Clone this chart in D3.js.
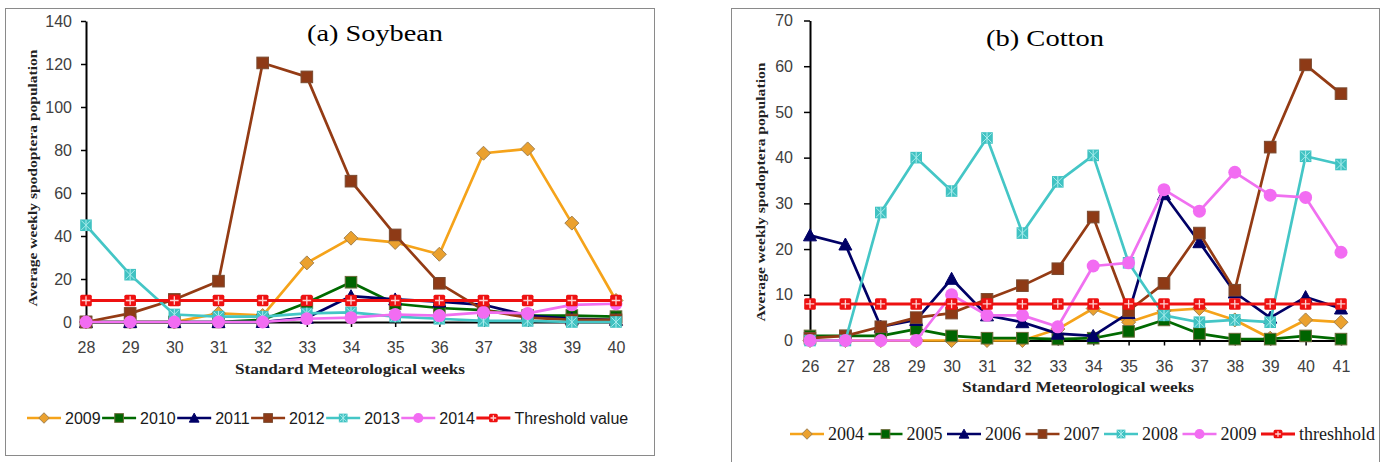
<!DOCTYPE html>
<html><head><meta charset="utf-8">
<script src="https://cdn.jsdelivr.net/npm/d3@7"></script>
<style>
html,body{margin:0;padding:0;background:#fff;}
svg{display:block;}
</style></head><body>
<svg id="c" width="1382" height="462"></svg>
<script>
// ---------- DATA ----------
const soyWeeks = [28,29,30,31,32,33,34,35,36,37,38,39,40];
const soyYTicks = [0,20,40,60,80,100,120,140];
const soy2009 = [0,0,0,4,3,27.5,39,37,31.5,78.5,80.5,46,10];
const soy2010 = [0,0,0,0,1,9,18.5,8.5,6.5,5.5,3,3,2.5];
const soy2011 = [0,0,0,0,0,2,12,10.5,9.5,8,3,1.5,1];
const soy2012 = [0,4,10.5,19,120.5,114,65.5,40.5,18,5.5,2,1,1];
const soy2013 = [45,22,3.5,2.5,2.5,4,4.5,2.5,1.5,0.5,0.5,0,0];
const soy2014 = [0,0,0,0,0,1.5,2,3.5,3,4.5,4,8,8.5];
const soyThreshold = [10,10,10,10,10,10,10,10,10,10,10,10,10];
const soyNames = ["2009","2010","2011","2012","2013","2014","Threshold value"];

const cotWeeks = [26,27,28,29,30,31,32,33,34,35,36,37,38,39,40,41];
const cotYTicks = [0,10,20,30,40,50,60,70];
const cot2004 = [0,0,0,0,0,0,0,2.5,7,4,6.5,7,4.5,0.5,4.5,4];
const cot2005 = [1,1,1,2.5,1,0.5,0.5,0.3,0.5,2,4.5,1.5,0.3,0.3,1,0.3];
const cot2006 = [23,21,3,4.5,13.5,5.5,4,1.5,1,6,32,21.5,10.5,5,9.5,7];
const cot2007 = [0.5,1,3,5,6,9,12,15.7,27,6.5,12.5,23.5,11,42.3,60.3,54];
const cot2008 = [0,0,28,40,32.7,44.3,23.5,34.7,40.5,17,5.5,4,4.5,4,40.3,38.5];
const cot2009 = [0,0,0,0,10,5.5,5.5,3,16.3,17,33,28.3,36.8,31.8,31.3,19.3];
const cotThreshold = [8,8,8,8,8,8,8,8,8,8,8,8,8,8,8,8];
const cotNames = ["2004","2005","2006","2007","2008","2009","threshhold"];

// ---------- STYLES ----------
const styles = [
  {line:"#F5A31A", fill:"#EBA12E", stroke:"#A08050", m:"diamond"},
  {line:"#006A00", fill:"#006400", stroke:"#6B6B3A", m:"square"},
  {line:"#000066", fill:"#000066", stroke:"#000066", m:"triangle"},
  {line:"#943B14", fill:"#8E3A16", stroke:"#7A4A30", m:"square"},
  {line:"#44C6C6", fill:"#40C2C2", stroke:"#40C2C2", m:"star"},
  {line:"#F070F0", fill:"#F26CF2", stroke:"#F26CF2", m:"circle"},
  {line:"#EE1111", fill:"#EE1111", stroke:"#EE1111", m:"plus", w:3}
];

const svg = d3.select("#c");

function addMarker(g, st, s) {
  const r = 5.8 * s;
  if (st.m === "diamond") {
    const d = 7 * s;
    g.append("path").attr("d", `M0,${-d}L${d},0L0,${d}L${-d},0Z`)
      .attr("fill", st.fill).attr("stroke", st.stroke).attr("stroke-width", 1);
  } else if (st.m === "square") {
    g.append("rect").attr("x", -r).attr("y", -r).attr("width", 2*r).attr("height", 2*r)
      .attr("fill", st.fill).attr("stroke", st.stroke).attr("stroke-width", 1);
  } else if (st.m === "triangle") {
    g.append("path").attr("d", `M0,${-6.5*s}L${6.5*s},${5.5*s}L${-6.5*s},${5.5*s}Z`)
      .attr("fill", st.fill).attr("stroke", st.stroke).attr("stroke-width", 1);
  } else if (st.m === "circle") {
    g.append("circle").attr("r", r+0.7).attr("fill", st.fill);
  } else if (st.m === "star") {
    g.append("rect").attr("x", -r).attr("y", -r).attr("width", 2*r).attr("height", 2*r)
      .attr("fill", st.fill);
    const k = r*0.8;
    g.append("path").attr("d", `M${-k},${-k}L${k},${k}M${-k},${k}L${k},${-k}M0,${-r}L0,${r}`)
      .attr("stroke", "#A8ECEC").attr("stroke-width", 1);
  } else if (st.m === "plus") {
    g.append("rect").attr("x", -r).attr("y", -r).attr("width", 2*r).attr("height", 2*r)
      .attr("rx", 1.5).attr("fill", st.fill);
    g.append("path").attr("d", `M0,${-r+1.5}L0,${r-1.5}M${-r+1.5},0L${r-1.5},0`)
      .attr("stroke", "#FFD0D0").attr("stroke-width", 1.3);
  }
}

function drawChart(opt) {
  const g = svg.append("g");
  g.append("rect").attr("x", opt.box[0]+0.5).attr("y", opt.box[1]+0.5)
    .attr("width", opt.box[2]-opt.box[0]).attr("height", opt.box[3]-opt.box[1])
    .attr("fill", "#fff").attr("stroke", "#8a8a8a").attr("stroke-width", 1);

  const x = d3.scalePoint().domain(opt.weeks).range(opt.xr);
  const y = d3.scaleLinear().domain([0, opt.yTicks[opt.yTicks.length-1]]).range(opt.yr);

  const ya = g.append("g").attr("transform", `translate(${opt.xr[0]},0)`)
    .call(d3.axisLeft(y).tickValues(opt.yTicks).tickSize(opt.ytick).tickSizeOuter(0).tickPadding(opt.ypad));
  const xa = g.append("g").attr("transform", `translate(0,${opt.yr[0]})`)
    .call(d3.axisBottom(x).tickSize(5).tickSizeOuter(0).tickPadding(15));
  [ya, xa].forEach(a => {
    a.select(".domain").attr("stroke", "#000").attr("stroke-width", 2);
    a.selectAll(".tick line").attr("stroke", "#000").attr("stroke-width", 1.5);
    a.selectAll(".tick text").attr("fill", "#404040")
      .style("font-family", "'Liberation Sans', Arial, sans-serif").style("font-size", "16px");
  });

  const line = d3.line().x(d => x(d.w)).y(d => y(d.v));
  opt.series.forEach((vals, i) => {
    const st = styles[i];
    const pts = opt.weeks.map((w, j) => ({w, v: vals[j]}));
    g.append("path").datum(pts).attr("d", line).attr("fill", "none")
      .attr("stroke", st.line).attr("stroke-width", st.w || 2.7).attr("stroke-linejoin", "round");
    pts.forEach(p => {
      const mg = g.append("g").attr("transform", `translate(${x(p.w)},${y(p.v)})`);
      addMarker(mg, st, 1);
    });
  });

  g.append("text").attr("x", opt.title.x).attr("y", opt.title.y)
    .attr("textLength", opt.title.len).attr("lengthAdjust", "spacingAndGlyphs")
    .style("font-family", "'Liberation Serif', 'Times New Roman', serif").style("font-size", "24px")
    .attr("fill", "#000").text(opt.title.text);

  g.append("text").attr("transform", `translate(${opt.ylab.x},${opt.ylab.y}) rotate(-90)`)
    .attr("text-anchor", "middle").attr("textLength", opt.ylab.len).attr("lengthAdjust", "spacingAndGlyphs")
    .style("font-family", "'Liberation Serif', 'Times New Roman', serif").style("font-size", "13px")
    .style("font-weight", "bold").attr("fill", "#222").text("Average weekly spodoptera  population");

  g.append("text").attr("x", opt.xlab.x).attr("y", opt.xlab.y)
    .attr("textLength", opt.xlab.len).attr("lengthAdjust", "spacingAndGlyphs")
    .style("font-family", "'Liberation Serif', 'Times New Roman', serif").style("font-size", "14px")
    .style("font-weight", "bold").attr("fill", "#222").text("Standard Meteorological weeks");

  let lx = opt.leg.x;
  const ly = opt.leg.y;
  opt.names.forEach((nm, i) => {
    const st = styles[i];
    g.append("line").attr("x1", lx).attr("x2", lx+34).attr("y1", ly).attr("y2", ly)
      .attr("stroke", st.line).attr("stroke-width", st.w || 2.5);
    const mg = g.append("g").attr("transform", `translate(${lx+17},${ly})`);
    addMarker(mg, st, 0.75);
    const t = g.append("text").attr("x", lx+38).attr("y", ly+5.5)
      .style("font-family", opt.leg.font).style("font-size", opt.leg.size)
      .attr("fill", "#1a1a1a").text(nm);
    lx += 38 + t.node().getComputedTextLength() + opt.leg.gap;
  });
}

drawChart({
  box: [5, 8, 654, 455],
  weeks: soyWeeks, yTicks: soyYTicks,
  xr: [86, 616], yr: [322, 21], ytick: 5, ypad: 9,
  series: [soy2009, soy2010, soy2011, soy2012, soy2013, soy2014, soyThreshold],
  names: soyNames,
  title: {text: "(a) Soybean", x: 307, y: 41, len: 136},
  ylab: {x: 37, y: 178, len: 257},
  xlab: {x: 235, y: 374, len: 230},
  leg: {x: 27, y: 418, font: "'Liberation Sans', Arial, sans-serif", size: "16px", gap: 1.5}
});

drawChart({
  box: [731, 8, 1379, 475],
  weeks: cotWeeks, yTicks: cotYTicks,
  xr: [810, 1341], yr: [340.5, 20.5], ytick: 6, ypad: 11,
  series: [cot2004, cot2005, cot2006, cot2007, cot2008, cot2009, cotThreshold],
  names: cotNames,
  title: {text: "(b) Cotton", x: 986, y: 46, len: 118},
  ylab: {x: 765, y: 192, len: 259},
  xlab: {x: 962, y: 392, len: 232},
  leg: {x: 790, y: 434, font: "'Liberation Serif', 'Times New Roman', serif", size: "18px", gap: 4.5}
});
</script>
</body></html>
